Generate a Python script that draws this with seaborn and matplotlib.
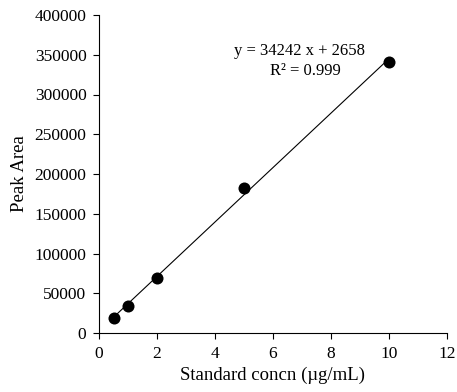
import numpy as np
import pandas as pd
import matplotlib
matplotlib.use("Agg")
import matplotlib.pyplot as plt
import seaborn as sns

conc = [0.5, 1, 2, 5, 10]
peak_area = [18400, 34400, 69600, 182800, 340900]
slope = 34242
intercept = 2658
eq_text = "y = 34242 x + 2658"
r2_text = "R² = 0.999"

sns.set_style("white")
plt.rcParams['font.family'] = ['Liberation Serif', 'DejaVu Serif']
plt.rcParams['text.color'] = 'black'
plt.rcParams['axes.labelcolor'] = 'black'

fig = plt.figure(figsize=(4.57, 3.92), dpi=100)
ax = fig.add_axes([99/457, 1 - 333/392, (447-99)/457, (333-15)/392])

df = pd.DataFrame({"conc": conc, "area": peak_area})
xs = np.array([min(conc), max(conc)])
ax.plot(xs, slope * xs + intercept, color="black", lw=0.8, zorder=1)
sns.scatterplot(data=df, x="conc", y="area", ax=ax, color="black", s=75,
                edgecolor="black", linewidth=0, zorder=2, legend=False)

ax.set_xlim(0, 12)
ax.set_ylim(0, 400000)
ax.set_xticks(range(0, 13, 2))
ax.set_yticks(range(0, 400001, 50000))
ax.tick_params(axis="both", direction="out", length=4, width=0.8, labelsize=12.5,
               colors="black", bottom=True, left=True)
ax.tick_params(axis="x", pad=5)
ax.tick_params(axis="y", pad=5)
for s in ["top", "right"]:
    ax.spines[s].set_visible(False)
for s in ["left", "bottom"]:
    ax.spines[s].set_color("black")
    ax.spines[s].set_linewidth(0.8)

ax.set_xlabel("Standard concn (µg/mL)", fontsize=13.5, labelpad=4, color="black")
ax.set_ylabel("Peak Area", fontsize=13.5, labelpad=5, color="black")
ax.text(6.93, 355000, eq_text, ha="center", va="center", fontsize=12, color="black")
ax.text(7.1, 330000, r2_text, ha="center", va="center", fontsize=12, color="black")

fig.savefig("out.png", dpi=100)
